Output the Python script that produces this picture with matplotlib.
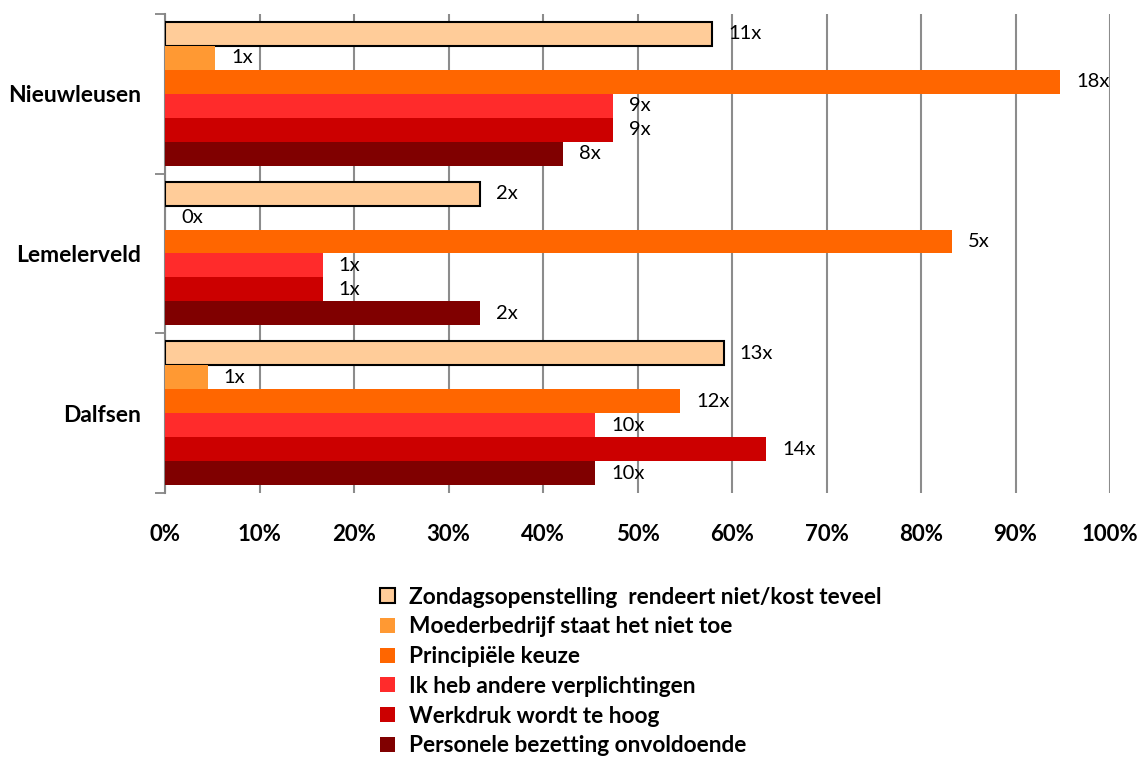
import matplotlib
matplotlib.use("Agg")
import matplotlib.pyplot as plt
from matplotlib.patches import Patch
import numpy as np

plt.rcParams['font.family'] = ['Lato', 'DejaVu Sans']

places = ['Nieuwleusen', 'Lemelerveld', 'Dalfsen']
reasons = ['Zondagsopenstelling  rendeert niet/kost teveel',
           'Moederbedrijf staat het niet toe',
           'Principiële keuze',
           'Ik heb andere verplichtingen',
           'Werkdruk wordt te hoog',
           'Personele bezetting onvoldoende']
# percentages per plaats, in volgorde van reasons
pct_nieuwleusen = [57.9, 5.3, 94.7, 47.4, 47.4, 42.1]
pct_lemelerveld = [33.3, 0.0, 83.3, 16.7, 16.7, 33.3]
pct_dalfsen = [59.1, 4.5, 54.5, 45.5, 63.6, 45.5]
cnt_nieuwleusen = [11, 1, 18, 9, 9, 8]
cnt_lemelerveld = [2, 0, 5, 1, 1, 2]
cnt_dalfsen = [13, 1, 12, 10, 14, 10]
colors = ['#FFCC99', '#FF9933', '#FF6600', '#FF2B2B', '#CC0000', '#800000']

pcts = [pct_nieuwleusen, pct_lemelerveld, pct_dalfsen]
cnts = [cnt_nieuwleusen, cnt_lemelerveld, cnt_dalfsen]

fig = plt.figure(figsize=(11.46, 7.58), dpi=100)
ax = fig.add_axes([0.144, 0.3496, 0.8246, 0.632])

h = 0.15
centers = [2, 1, 0]
for g, c in enumerate(centers):
    for i in range(6):
        y = c + 0.375 - h * i
        v = pcts[g][i]
        if i == 0:
            ax.barh(y, v, height=h, color=colors[i], edgecolor='black', linewidth=1.5, zorder=3)
        else:
            ax.barh(y, v, height=h, color=colors[i], linewidth=0, zorder=3)
        ax.annotate(f"{cnts[g][i]}x", (v, y), xytext=(16, 0), textcoords='offset pixels',
                    va='center', ha='left', fontsize=14.5, zorder=4)

ax.set_xlim(0, 100)
ax.set_ylim(-0.5, 2.5)
ax.set_xticks(np.arange(0, 101, 10))
ax.set_xticklabels([f"{t}%" for t in range(0, 101, 10)], fontsize=16, fontweight='bold')
ax.tick_params(axis='x', length=0, pad=22)
ax.set_yticks(centers)
ax.set_yticklabels(places, fontsize=16.5, fontweight='bold')
ax.set_yticks([-0.5, 0.5, 1.5, 2.5], minor=True)
ax.tick_params(axis='y', which='major', length=0, pad=17)
ax.tick_params(axis='y', which='minor', length=7, width=1.3, color='#868686')
ax.xaxis.grid(True, color='#8c8c8c', linewidth=1.5, zorder=0)
ax.set_axisbelow(True)
for s in ['top', 'right', 'bottom']:
    ax.spines[s].set_visible(False)
ax.spines['left'].set_color('#868686')
ax.spines['left'].set_linewidth(1.5)

handles = [Patch(facecolor=colors[0], edgecolor='black', linewidth=1.5)]
handles += [Patch(facecolor=col, linewidth=0) for col in colors[1:]]
fig.legend(handles, reasons, loc='upper left', bbox_to_anchor=(0.324, 0.238),
           frameon=False, prop={'size': 16.3, 'weight': 'bold'},
           handlelength=0.65, handleheight=0.65, handletextpad=0.6, labelspacing=0.385,
           borderaxespad=0)

fig.savefig('out.png', dpi=100)
